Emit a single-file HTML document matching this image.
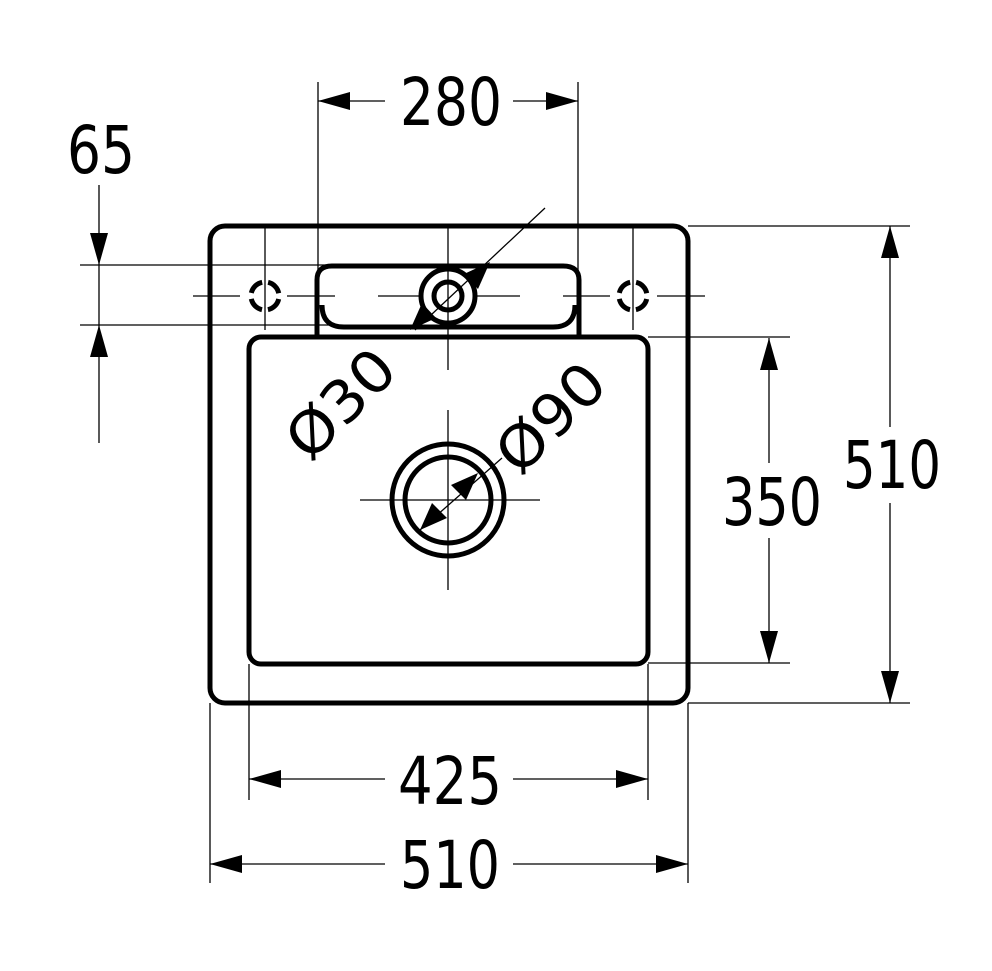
<!DOCTYPE html>
<html><head><meta charset="utf-8"><style>html,body{margin:0;padding:0;background:#fff}svg{display:block}</style></head>
<body>
<svg width="992" height="971" viewBox="0 0 992 971" xmlns="http://www.w3.org/2000/svg">
<g stroke="#000" stroke-width="1.3" fill="none">
<line x1="318" y1="82" x2="318" y2="330"/>
<line x1="578" y1="82" x2="578" y2="330"/>
<line x1="80" y1="265" x2="330" y2="265"/>
<line x1="80" y1="325" x2="330" y2="325"/>
<line x1="688" y1="226" x2="910" y2="226"/>
<line x1="688" y1="703" x2="910" y2="703"/>
<line x1="648" y1="337" x2="790" y2="337"/>
<line x1="648" y1="663" x2="790" y2="663"/>
<line x1="249" y1="664" x2="249" y2="800"/>
<line x1="648" y1="664" x2="648" y2="800"/>
<line x1="210" y1="703" x2="210" y2="883"/>
<line x1="688" y1="703" x2="688" y2="883"/>
<line x1="318" y1="101" x2="385" y2="101"/><line x1="513" y1="101" x2="578" y2="101"/>
<line x1="99" y1="185" x2="99" y2="443"/>
<line x1="890" y1="226" x2="890" y2="427"/><line x1="890" y1="503" x2="890" y2="703"/>
<line x1="769" y1="338" x2="769" y2="463"/><line x1="769" y1="538" x2="769" y2="663"/>
<line x1="249" y1="779" x2="385" y2="779"/><line x1="513" y1="779" x2="648" y2="779"/>
<line x1="210" y1="864" x2="385" y2="864"/><line x1="513" y1="864" x2="688" y2="864"/>
<line x1="448" y1="228" x2="448" y2="370"/>
<line x1="448" y1="410" x2="448" y2="590"/>
<line x1="360" y1="500" x2="540" y2="500"/>
<line x1="265" y1="228" x2="265" y2="330"/>
<line x1="633" y1="228" x2="633" y2="330"/>
<line x1="193" y1="296" x2="240" y2="296"/><line x1="287" y1="296" x2="335" y2="296"/>
<line x1="378" y1="296" x2="420" y2="296"/><line x1="476" y1="296" x2="520" y2="296"/>
<line x1="563" y1="296" x2="610" y2="296"/><line x1="657" y1="296" x2="705" y2="296"/>
<line x1="545" y1="208" x2="415" y2="330"/>
<line x1="420" y1="530" x2="502" y2="458"/>
</g>
<g fill="#000">
<polygon points="318,101 350,92 350,110"/><polygon points="578,101 546,92 546,110"/>
<polygon points="99,265 90,233 108,233"/><polygon points="99,325 90,357 108,357"/>
<polygon points="890,226 881,258 899,258"/><polygon points="890,703 881,671 899,671"/>
<polygon points="769,338 760,370 778,370"/><polygon points="769,663 760,631 778,631"/>
<polygon points="249,779 281,770 281,788"/><polygon points="648,779 616,770 616,788"/>
<polygon points="210,864 242,855 242,873"/><polygon points="688,864 656,855 656,873"/>
<polygon points="490,262 464,274 478,289"/>
<polygon points="410,330 436,318 422,303"/>
<polygon points="478,473 451,485 466,500"/>
<polygon points="420,530 432,503 447,518"/>
</g>
<g stroke="#000" stroke-width="5" fill="none">
<rect x="210" y="226" width="478" height="477" rx="15"/>
<rect x="249" y="337" width="399" height="327" rx="12"/>
<path d="M317,337 V280 Q317,266 332,266 H563 Q579,266 579,280 V337"/>
<path d="M322,305 Q322,327 344,327 H553 Q575,327 575,305"/>
<circle cx="448" cy="296" r="27"/>
<circle cx="448" cy="296" r="14"/>
<circle cx="448" cy="500" r="56"/>
<circle cx="448" cy="500" r="43"/>
<circle cx="265" cy="296" r="14" stroke-width="5" stroke-dasharray="16 6" stroke-dashoffset="-3"/>
<circle cx="633" cy="296" r="14" stroke-width="5" stroke-dasharray="16 6" stroke-dashoffset="-3"/>
</g>
<g font-family="DejaVu Sans, sans-serif" font-size="66" fill="#000" text-anchor="middle">
<text x="451" y="125" textLength="102" lengthAdjust="spacingAndGlyphs">280</text>
<text x="101" y="173" textLength="68" lengthAdjust="spacingAndGlyphs">65</text>
<text x="892" y="488" textLength="98" lengthAdjust="spacingAndGlyphs">510</text>
<text x="772" y="525" textLength="100" lengthAdjust="spacingAndGlyphs">350</text>
<text x="450" y="804" textLength="104" lengthAdjust="spacingAndGlyphs">425</text>
<text x="450" y="888" textLength="100" lengthAdjust="spacingAndGlyphs">510</text>
</g>
<g font-family="DejaVu Sans, sans-serif" font-size="58" fill="#000" text-anchor="middle">
<text transform="translate(355,418) rotate(-45)" textLength="128" lengthAdjust="spacingAndGlyphs">Ø30</text>
<text transform="translate(565,432) rotate(-45)" textLength="128" lengthAdjust="spacingAndGlyphs">Ø90</text>
</g>
</svg>
</body></html>
